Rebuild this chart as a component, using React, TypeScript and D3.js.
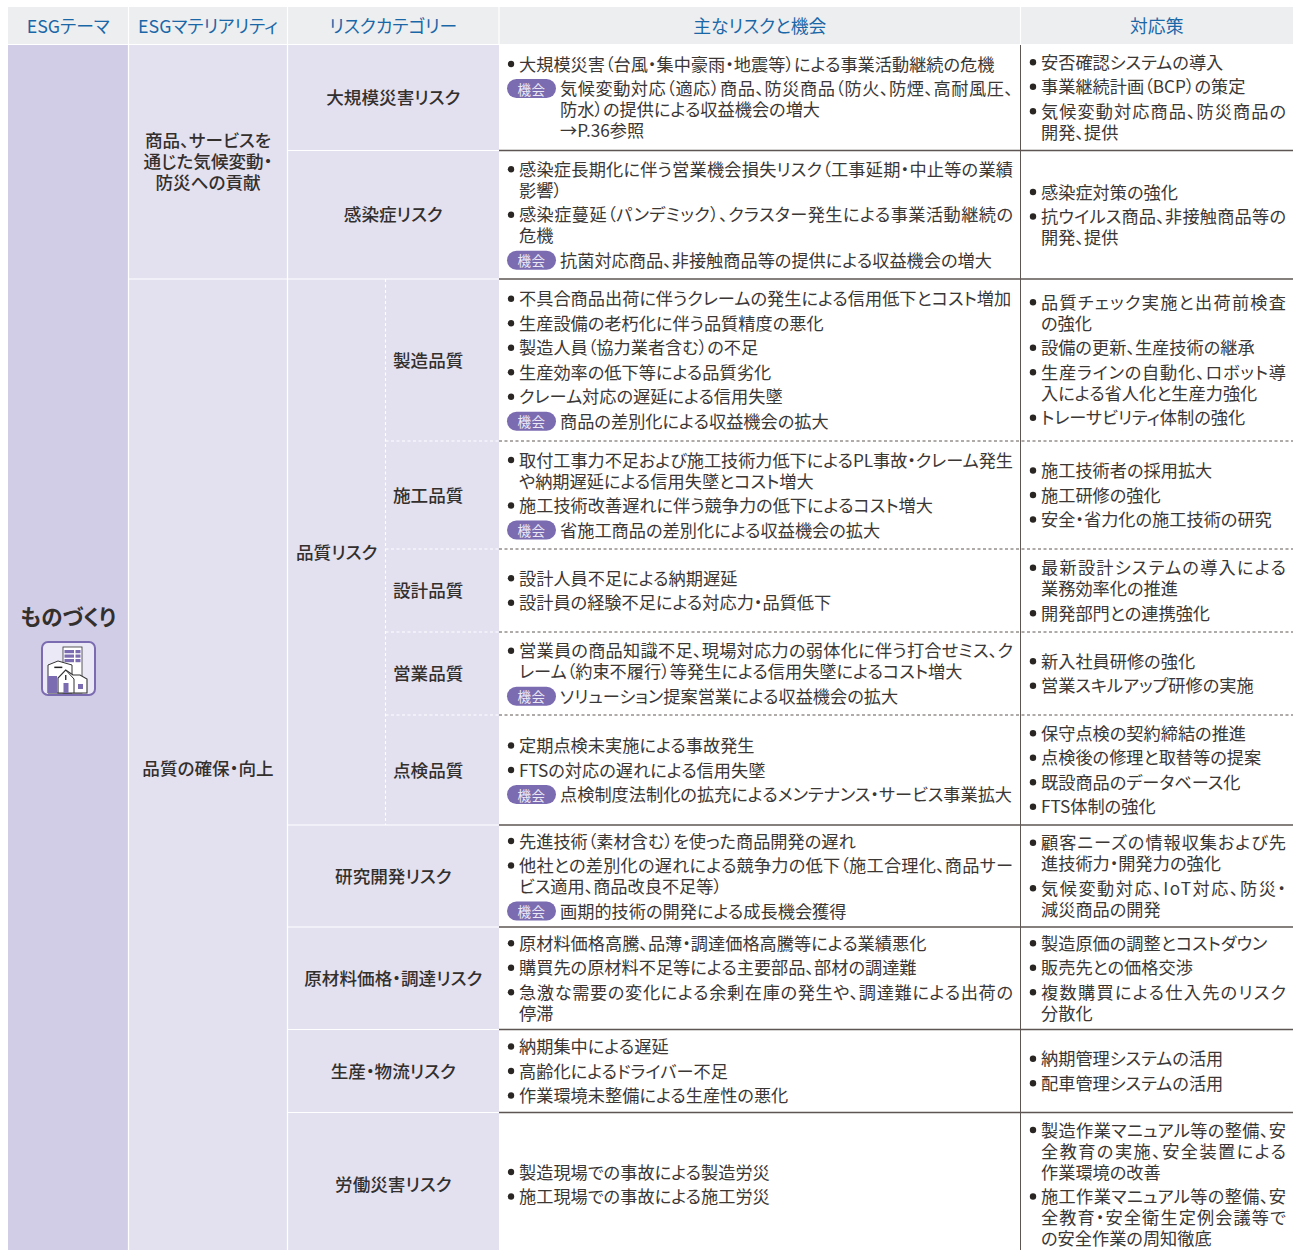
import React from 'react';
import * as d3 from 'd3';

/* ─── Palette ─── */
const C = {
    header: '#edeef0',
    theme: '#d2cde6',
    cell: '#e3e1f0',
    blue: '#1a67a8',
    text: '#3b3735',
    label: '#332f2d',
    rule: '#5d5652',
    chance: '#7b6bb0',
    chanceText: '#ece9f5',
};

const FONT = "'Noto Sans CJK JP', 'Noto Sans', sans-serif";

/* ─── Table content ─── */
const headers = ['ESGテーマ', 'ESGマテリアリティ', 'リスクカテゴリー', '主なリスクと機会', '対応策'];
const themeLabel = 'ものづくり';
const materiality = ['商品、サービスを\n通じた気候変動・\n防災への貢献', '品質の確保・向上'];
const materialitySpan = [[0, 2], [2, 11]];
const qualityLabel = '品質リスク';
const qualitySpan = [2, 7];

const categories = [
    '大規模災害リスク', '感染症リスク', '製造品質', '施工品質', '設計品質', '営業品質', '点検品質',
    '研究開発リスク', '原材料価格・調達リスク', '生産・物流リスク', '労働災害リスク',
];

const risks: string[][] = [
    ['大規模災害（台風・集中豪雨・地震等）による事業活動継続の危機'],
    ['感染症長期化に伴う営業機会損失リスク（工事延期・中止等の業績\n影響）', '感染症蔓延（パンデミック）、クラスター発生による事業活動継続の\n危機'],
    ['不具合商品出荷に伴うクレームの発生による信用低下とコスト増加', '生産設備の老朽化に伴う品質精度の悪化', '製造人員（協力業者含む）の不足', '生産効率の低下等による品質劣化', 'クレーム対応の遅延による信用失墜'],
    ['取付工事力不足および施工技術力低下によるPL事故・クレーム発生\nや納期遅延による信用失墜とコスト増大', '施工技術改善遅れに伴う競争力の低下によるコスト増大'],
    ['設計人員不足による納期遅延', '設計員の経験不足による対応力・品質低下'],
    ['営業員の商品知識不足、現場対応力の弱体化に伴う打合せミス、ク\nレーム（約束不履行）等発生による信用失墜によるコスト増大'],
    ['定期点検未実施による事故発生', 'FTSの対応の遅れによる信用失墜'],
    ['先進技術（素材含む）を使った商品開発の遅れ', '他社との差別化の遅れによる競争力の低下（施工合理化、商品サー\nビス適用、商品改良不足等）'],
    ['原材料価格高騰、品薄・調達価格高騰等による業績悪化', '購買先の原材料不足等による主要部品、部材の調達難', '急激な需要の変化による余剰在庫の発生や、調達難による出荷の\n停滞'],
    ['納期集中による遅延', '高齢化によるドライバー不足', '作業環境未整備による生産性の悪化'],
    ['製造現場での事故による製造労災', '施工現場での事故による施工労災'],
];

const chances: (string | null)[] = [
    '気候変動対応（適応）商品、防災商品（防火、防煙、高耐風圧、\n防水）の提供による収益機会の増大\n→P.36参照',
    '抗菌対応商品、非接触商品等の提供による収益機会の増大',
    '商品の差別化による収益機会の拡大',
    '省施工商品の差別化による収益機会の拡大',
    null,
    'ソリューション提案営業による収益機会の拡大',
    '点検制度法制化の拡充によるメンテナンス・サービス事業拡大',
    '画期的技術の開発による成長機会獲得',
    null, null, null,
];

const responses: string[][] = [
    ['安否確認システムの導入', '事業継続計画（BCP）の策定', '気候変動対応商品、防災商品の\n開発、提供'],
    ['感染症対策の強化', '抗ウイルス商品、非接触商品等の\n開発、提供'],
    ['品質チェック実施と出荷前検査\nの強化', '設備の更新、生産技術の継承', '生産ラインの自動化、ロボット導\n入による省人化と生産力強化', 'トレーサビリティ体制の強化'],
    ['施工技術者の採用拡大', '施工研修の強化', '安全・省力化の施工技術の研究'],
    ['最新設計システムの導入による\n業務効率化の推進', '開発部門との連携強化'],
    ['新入社員研修の強化', '営業スキルアップ研修の実施'],
    ['保守点検の契約締結の推進', '点検後の修理と取替等の提案', '既設商品のデータベース化', 'FTS体制の強化'],
    ['顧客ニーズの情報収集および先\n進技術力・開発力の強化', '気候変動対応、IoT対応、防災・\n減災商品の開発'],
    ['製造原価の調整とコストダウン', '販売先との価格交渉', '複数購買による仕入先のリスク\n分散化'],
    ['納期管理システムの活用', '配車管理システムの活用'],
    ['製造作業マニュアル等の整備、安\n全教育の実施、安全装置による\n作業環境の改善', '施工作業マニュアル等の整備、安\n全教育・安全衛生定例会議等で\nの安全作業の周知徹底'],
];

/* ─── Layout ─── */
const W = 1298;
const H = 1250;
const colEdges = [8, 128.5, 287.5, 499, 1020.5, 1293];
const subColX = 385.5;
const headerTop = 7;
const headerBottom = 44;
const bodyTop = 45;
const rowEdges = [44, 150.5, 279, 441, 549, 632, 715, 825, 927, 1029.5, 1112.5, 1256];

const rowY = d3.scaleLinear().domain(d3.range(rowEdges.length)).range(rowEdges);
const colX = d3.scaleLinear().domain(d3.range(colEdges.length)).range(colEdges);

const LINE = 21;
const ITEM_GAP = 24.5;
const SIZE = 17.2;
const LABEL_SIZE = 17.6;
const NUDGE = -0.9; // central baseline sits a touch low for this font

type Block = { kind: 'bullet' | 'chance'; lines: string[] };

function blocksFor(items: string[], chance: string | null = null): Block[] {
    const out: Block[] = items.map(s => ({ kind: 'bullet', lines: s.split('\n') }));
    if (chance) out.push({ kind: 'chance', lines: chance.split('\n') });
    return out;
}

/* one cell of bullet lines, centered vertically in its row */
function BulletCell({ blocks, cy, x, rightEdge }: { blocks: Block[]; cy: number; x: number; rightEdge: number }) {
    const total = d3.sum(blocks, b => (b.lines.length - 1) * LINE) + (blocks.length - 1) * ITEM_GAP;
    let y = cy - total / 2;
    const out: React.ReactNode[] = [];
    blocks.forEach((b, i) => {
        const textX = b.kind === 'chance' ? x + 49 : x + 8;
        if (b.kind === 'bullet') {
            out.push(<circle key={`d${i}`} cx={x} cy={y} r={3.2} fill="#2a2624" />);
        } else {
            out.push(
                <g key={`c${i}`}>
                    <rect x={x - 4} y={y - 9.5} width={49} height={19} rx={9.5} fill={C.chance} />
                    <text x={x + 20.5} y={y} textAnchor="middle" dominantBaseline="central" fontSize={13.5} fill={C.chanceText} letterSpacing={0.6}>機会</text>
                </g>,
            );
        }
        b.lines.forEach((ln, j) => {
            const wrapped = j < b.lines.length - 1 && !(b.kind === 'chance' && j === 1);
            out.push(
                <text
                    key={`t${i}-${j}`}
                    x={textX}
                    y={y + j * LINE + NUDGE}
                    dominantBaseline="central"
                    fontSize={SIZE}
                    fill={C.text}
                    textLength={wrapped ? rightEdge - textX : undefined}
                    lengthAdjust="spacing"
                >{ln}</text>,
            );
        });
        y += (b.lines.length - 1) * LINE + ITEM_GAP;
    });
    return <g>{out}</g>;
}

/* small building pictogram under the theme label */
function ThemeIcon() {
    const p = C.chance;
    return (
        <g transform="translate(42,642)">
            <rect x={0} y={0} width={53} height={53} rx={6} fill="#ebe9f5" stroke={p} strokeWidth={2} />
            <rect x={21} y={5} width={19} height={46} fill="#fff" stroke="#333" strokeWidth={0.8} />
            {d3.range(3).map(i => (
                <g key={i}>
                    <rect x={22.5} y={8 + i * 4.5} width={9.5} height={3.2} fill={p} />
                    <rect x={33.5} y={8 + i * 4.5} width={5} height={3.2} fill={p} />
                </g>
            ))}
            <path d="M6,51 V23 L16,19 L30,23 V51 Z" fill="#fff" stroke="#333" strokeWidth={1} />
            <rect x={6} y={34} width={9} height={17} fill={p} />
            <rect x={12.3} y={24.6} width={8} height={1.5} fill="#222" />
            <path d="M16,51 V36 L23.7,28 L31,33 H38 L45,37 V51 Z" fill="#fff" stroke="#333" strokeWidth={1.1} />
            <path d="M23.7,28 L32,37 V51" fill="none" stroke="#333" strokeWidth={1} />
            <rect x={21.5} y={41} width={5} height={10} fill={p} />
            <rect x={23.1} y={33} width={1.3} height={5} fill="#222" />
            <rect x={36} y={42} width={5} height={5} fill={p} />
        </g>
    );
}

function MultiLabel({ text, x, cy, size = LABEL_SIZE, anchor = 'middle', weight = 500, fill = C.label }:
    { text: string; x: number; cy: number; size?: number; anchor?: string; weight?: number; fill?: string }) {
    const lines = text.split('\n');
    return (
        <g>
            {lines.map((ln, i) => (
                <text key={i} x={x} y={cy + NUDGE + (i - (lines.length - 1) / 2) * LINE} textAnchor={anchor as any}
                    dominantBaseline="central" fontSize={size} fontWeight={weight} fill={fill}>{ln}</text>
            ))}
        </g>
    );
}

export default function App() {
    const n = categories.length;
    const isSub = (i: number) => i >= qualitySpan[0] && i < qualitySpan[1];
    const mid = (a: number, b: number) => (rowY(a) + rowY(b)) / 2;

    return (
        <svg width={W} height={H} viewBox={`0 0 ${W} ${H}`}
            style={{ position: 'absolute', left: 0, top: 0, fontFamily: FONT, fontFeatureSettings: '"palt"', background: '#fff' }}>
            {/* header */}
            <rect x={colX(0)} y={headerTop} width={colX(5) - colX(0)} height={headerBottom - headerTop} fill={C.header} />
            {d3.range(1, 5).map(i => (
                <line key={i} x1={colX(i)} x2={colX(i)} y1={headerTop} y2={headerBottom} stroke="#fff" strokeWidth={1.2} />
            ))}
            {headers.map((h, i) => (
                <text key={h} x={(colX(i) + colX(i + 1)) / 2} y={25} textAnchor="middle" dominantBaseline="central"
                    fontSize={17.8} fontWeight={400} fill={C.blue}>{h}</text>
            ))}

            {/* label columns */}
            <rect x={colX(0)} y={bodyTop} width={colX(1) - colX(0)} height={H - bodyTop} fill={C.theme} />
            <rect x={colX(1) + 0.5} y={bodyTop} width={colX(3) - colX(1) - 0.5} height={H - bodyTop} fill={C.cell} />
            <line x1={colX(1)} x2={colX(1)} y1={bodyTop} y2={H} stroke="#fff" strokeWidth={1.2} />
            <line x1={colX(2)} x2={colX(2)} y1={bodyTop} y2={H} stroke="#fff" strokeWidth={1.2} />
            <line x1={subColX} x2={subColX} y1={rowY(qualitySpan[0])} y2={rowY(qualitySpan[1])} stroke="#fff" strokeWidth={1.1} strokeDasharray="3 2.5" />

            {/* row rules */}
            {d3.range(1, n).map(i => {
                const dashed = isSub(i) && i > qualitySpan[0];
                const x0 = dashed ? subColX : i === materialitySpan[0][1] ? colX(1) : colX(2);
                return (
                    <g key={i}>
                        <line x1={x0} x2={colX(3)} y1={rowY(i)} y2={rowY(i)} stroke="#fff" strokeWidth={1.2} strokeDasharray={dashed ? '3 2.5' : undefined} />
                        <line x1={colX(3)} x2={colX(5)} y1={rowY(i)} y2={rowY(i)} stroke={C.rule} strokeWidth={dashed ? 1 : 1.3} strokeDasharray={dashed ? '3 2.5' : undefined} />
                    </g>
                );
            })}
            <line x1={colX(4)} x2={colX(4)} y1={bodyTop} y2={H} stroke={C.rule} strokeWidth={1} />

            {/* theme + materiality */}
            <MultiLabel text={themeLabel} x={(colX(0) + colX(1)) / 2} cy={616} size={21.5} weight={700} />
            <ThemeIcon />
            {materiality.map((m, i) => (
                <MultiLabel key={m} text={m} x={(colX(1) + colX(2)) / 2} cy={mid(materialitySpan[i][0], materialitySpan[i][1]) + i} />
            ))}
            <MultiLabel text={qualityLabel} x={296} cy={mid(qualitySpan[0], qualitySpan[1])} anchor="start" />

            {/* rows */}
            {categories.map((c, i) => {
                const cy = mid(i, i + 1);
                return (
                    <g key={c}>
                        {isSub(i)
                            ? <MultiLabel text={c} x={393} cy={cy} anchor="start" />
                            : <MultiLabel text={c} x={(colX(2) + colX(3)) / 2} cy={cy} />}
                        <BulletCell blocks={blocksFor(risks[i], chances[i])} cy={cy} x={511} rightEdge={1013} />
                        <BulletCell blocks={blocksFor(responses[i])} cy={cy} x={1033} rightEdge={1286} />
                    </g>
                );
            })}
        </svg>
    );
}
